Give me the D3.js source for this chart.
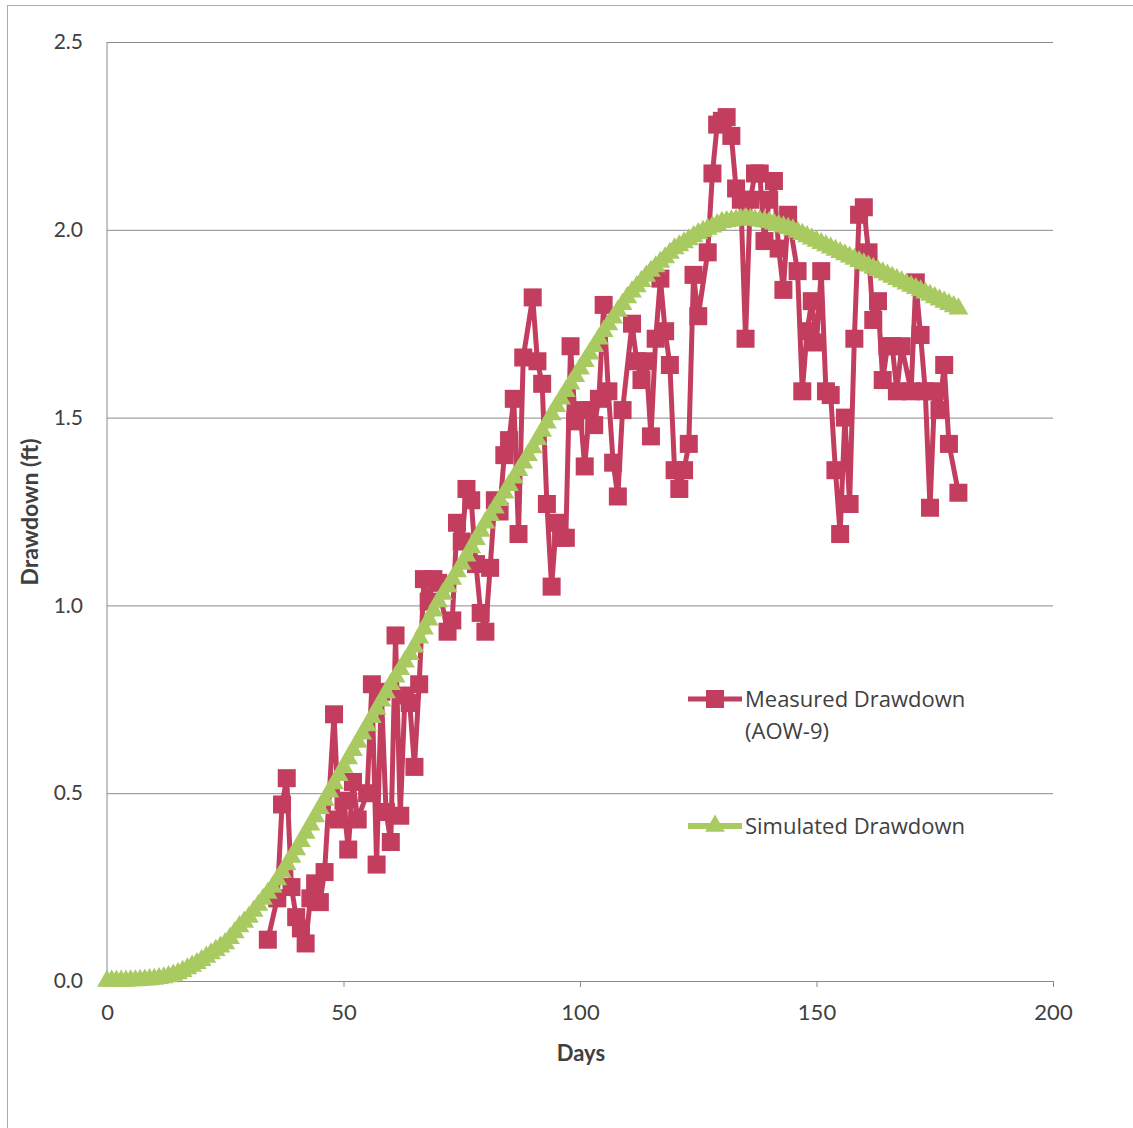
<!DOCTYPE html>
<html><head><meta charset="utf-8">
<script src="https://cdn.jsdelivr.net/npm/d3@7"></script>
<style>body{margin:0;background:#fff}svg{display:block}text{fill:#404040}</style>
</head><body><svg id="c" width="1133" height="1128" font-family="Lato, sans-serif"></svg>
<script>
const xTicks = [0, 50, 100, 150, 200];
const yTicks = [0.0, 0.5, 1.0, 1.5, 2.0, 2.5];
const xLabel = "Days";
const yLabel = "Drawdown (ft)";
const seriesNames = ["Measured Drawdown", "(AOW-9)", "Simulated Drawdown"];

const measuredDays = [34,36,37,38,39,40,41,42,43,44,45,46,48,49,50,51,52,53,55,56,57,58,59,60,61,62,63,64,65,66,67,68,69,70,72,73,74,75,76,77,78,79,80,81,82,83,84,85,86,87,88,90,91,92,93,94,95,96,97,98,99,100,101,102,103,104,105,106,107,108,109,111,112,113,114,115,116,117,118,119,120,121,122,123,124,125,127,128,129,130,131,132,133,134,135,136,137,138,139,140,141,142,143,144,146,147,148,149,150,151,152,153,154,155,156,157,158,159,160,161,162,163,164,165,166,167,168,170,171,172,173,174,175,176,177,178,180];
const measuredValues = [0.11,0.22,0.47,0.54,0.25,0.17,0.14,0.10,0.22,0.26,0.21,0.29,0.71,0.43,0.48,0.35,0.53,0.43,0.50,0.79,0.31,0.77,0.45,0.37,0.92,0.44,0.76,0.74,0.57,0.79,1.07,1.01,1.07,1.06,0.93,0.96,1.22,1.17,1.31,1.28,1.11,0.98,0.93,1.10,1.28,1.25,1.40,1.44,1.55,1.19,1.66,1.82,1.65,1.59,1.27,1.05,1.22,1.18,1.18,1.69,1.49,1.52,1.37,1.52,1.48,1.55,1.80,1.57,1.38,1.29,1.52,1.75,1.65,1.60,1.65,1.45,1.71,1.87,1.73,1.64,1.36,1.31,1.36,1.43,1.88,1.77,1.94,2.15,2.28,2.29,2.30,2.25,2.11,2.08,1.71,2.08,2.15,2.15,1.97,2.08,2.13,1.95,1.84,2.04,1.89,1.57,1.73,1.81,1.70,1.89,1.57,1.56,1.36,1.19,1.50,1.27,1.71,2.04,2.06,1.94,1.76,1.81,1.60,1.69,1.69,1.57,1.69,1.57,1.86,1.72,1.57,1.26,1.57,1.52,1.64,1.43,1.30];

const simulatedValues = [
0,0,0,0,0,0.001,0.001,0.002,0.003,0.004,0.005,
0.007,0.009,0.012,0.016,0.020,0.026,0.033,0.040,0.047,0.055,
0.064,0.073,0.082,0.091,0.100,0.114,0.129,0.145,0.157,0.170,
0.186,0.202,0.218,0.234,0.250,0.270,0.290,0.310,0.330,0.350,
0.372,0.394,0.416,0.438,0.460,0.482,0.504,0.526,0.548,0.570,
0.592,0.614,0.636,0.658,0.680,0.702,0.724,0.746,0.768,0.790,
0.810,0.830,0.850,0.870,0.890,0.914,0.938,0.962,0.986,1.010,
1.030,1.050,1.070,1.090,1.110,1.132,1.154,1.176,1.198,1.220,
1.240,1.260,1.280,1.300,1.320,1.340,1.360,1.380,1.400,1.420,
1.442,1.464,1.486,1.508,1.530,1.550,1.570,1.590,1.610,1.630,
1.650,1.670,1.690,1.710,1.730,1.748,1.766,1.784,1.802,1.820,
1.835,1.849,1.863,1.877,1.890,1.902,1.914,1.926,1.938,1.950,
1.958,1.966,1.974,1.982,1.990,1.996,2.002,2.008,2.014,2.020,
2.022,2.024,2.026,2.028,2.030,2.028,2.026,2.024,2.022,2.020,
2.016,2.012,2.008,2.004,2.000,1.994,1.988,1.982,1.976,1.970,
1.964,1.958,1.952,1.946,1.940,1.934,1.928,1.922,1.916,1.910,
1.904,1.898,1.892,1.886,1.880,1.874,1.868,1.862,1.856,1.850,
1.844,1.838,1.832,1.826,1.820,1.814,1.808,1.802,1.796,1.790];

const RED = "#c23d5e", GREEN = "#a8ca60", GRID = "#8a8a8a";
const svg = d3.select("#c");
svg.append("rect").attr("x",7.5).attr("y",5.5).attr("width",1140).attr("height",1140)
  .attr("fill","none").attr("stroke","#aaa").attr("stroke-width",1);

const x = d3.scaleLinear().domain([0,200]).range([107,1053]);
const y = d3.scaleLinear().domain([0,2.5]).range([981,42]);

const gy = svg.append("g").attr("transform","translate(107,0)")
  .call(d3.axisLeft(y).tickValues(yTicks).tickSize(7).tickFormat(d3.format(".1f")));
gy.attr("font-family",null).attr("font-size",null);
gy.select(".domain").attr("stroke",GRID).attr("d","M0,42V981");
gy.selectAll(".tick line").attr("stroke",GRID).attr("x2",946);
gy.selectAll(".tick text").attr("x",-24).attr("font-size",21).attr("fill","#404040");
gy.selectAll(".tick").filter(d=>d===0).select("line").attr("x2",0);

const gx = svg.append("g").attr("transform","translate(0,981)")
  .call(d3.axisBottom(x).tickValues(xTicks).tickSize(6).tickSizeOuter(0).tickFormat(d3.format("d")));
gx.attr("font-family",null).attr("font-size",null);
gx.select(".domain").attr("stroke",GRID);
gx.selectAll(".tick line").attr("stroke",GRID);
gx.selectAll(".tick text").attr("y",23).attr("font-size",22).attr("fill","#404040");

svg.append("text").attr("x",581).attr("y",1061).attr("text-anchor","middle")
  .attr("font-size",22).attr("font-weight","bold").text(xLabel);
svg.append("text").attr("transform","translate(38,512) rotate(-90)").attr("text-anchor","middle")
  .attr("font-size",23).attr("font-weight","bold").text(yLabel);

const measured = measuredDays.map((d,i)=>({d, v: measuredValues[i]}));
const line = d3.line().x(p=>x(p.d)).y(p=>y(p.v));
svg.append("path").datum(measured).attr("d",line).attr("fill","none")
  .attr("stroke",RED).attr("stroke-width",5).attr("stroke-linejoin","round");
const sq = 18;
svg.append("g").selectAll("rect").data(measured).join("rect")
  .attr("x",p=>x(p.d)-sq/2).attr("y",p=>y(p.v)-sq/2).attr("width",sq).attr("height",sq).attr("fill",RED);

const simulated = simulatedValues.map((v,i)=>({d:i, v}));
svg.append("path").datum(simulated).attr("d",line).attr("fill","none")
  .attr("stroke",GREEN).attr("stroke-width",8);
const tri = d3.symbol().type(d3.symbolTriangle).size(170);
svg.append("g").selectAll("path").data(simulated).join("path")
  .attr("transform",p=>`translate(${x(p.d)},${y(p.v)})`).attr("d",tri).attr("fill",GREEN);

const lg = svg.append("g").attr("font-family","'Open Sans', sans-serif").attr("font-size",22);
lg.append("line").attr("x1",688).attr("x2",742).attr("y1",699).attr("y2",699).attr("stroke",RED).attr("stroke-width",5);
lg.append("rect").attr("x",715-sq/2).attr("y",699-sq/2).attr("width",sq).attr("height",sq).attr("fill",RED);
lg.append("text").attr("x",745).attr("y",707).text(seriesNames[0]);
lg.append("text").attr("x",745).attr("y",739).text(seriesNames[1]);
lg.append("line").attr("x1",688).attr("x2",742).attr("y1",826).attr("y2",826).attr("stroke",GREEN).attr("stroke-width",6);
lg.append("path").attr("transform","translate(715,826)").attr("d",tri).attr("fill",GREEN);
lg.append("text").attr("x",745).attr("y",834).text(seriesNames[2]);
</script></body></html>
